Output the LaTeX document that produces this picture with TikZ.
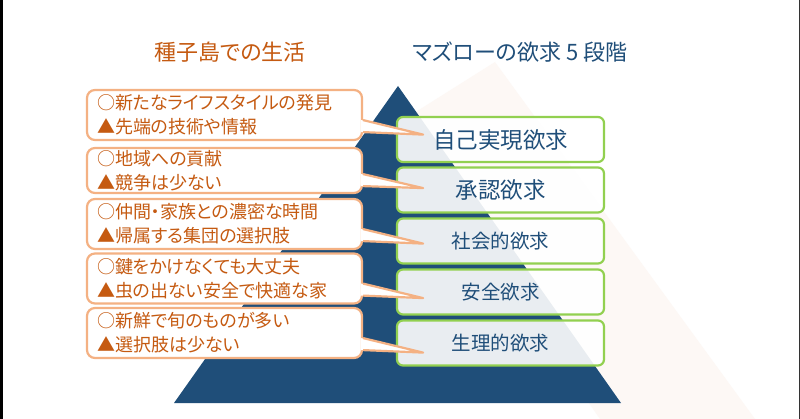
\documentclass[tikz,border=0pt]{standalone}
\usepackage{fontspec}
\setmainfont{Noto Sans CJK JP}[Script=CJK, RawFeature={+palt}]
\usepackage{tikz}
\usepackage{xcolor}
\definecolor{pyramidblue}{RGB}{31, 78, 121}
\definecolor{needgreen}{RGB}{146, 208, 80}
\definecolor{lifeorange}{RGB}{197, 90, 17}
\definecolor{calloutpeach}{RGB}{244, 177, 131}
\definecolor{palepeach}{RGB}{253, 248, 245}
\usetikzlibrary{calc, positioning}

\begin{document}
\begin{tikzpicture}[x=1pt, y=-1pt,
    needbox/.style={draw=needgreen, line width=2.2pt, rounded corners=6pt,
        fill=white, fill opacity=0.9, text opacity=1, text=pyramidblue,
        minimum width=207pt, minimum height=45pt},
    lifebox/.style={draw=calloutpeach, line width=2.2pt, rounded corners=8pt,
        fill=white, text=lifeorange, text width=255pt, align=left,
        inner xsep=10pt, inner ysep=0pt, minimum height=50pt,
        font=\fontsize{18}{24}\selectfont},
    wedge/.style={draw=calloutpeach, line width=2.2pt, line join=round},
    bigneed/.style={font=\fontsize{22.5}{24}\selectfont},
    smallneed/.style={font=\fontsize{19.5}{22}\selectfont}]
                    % Frame
                    \useasboundingbox (0, 0) rectangle (800, 419);
                    \fill[white] (0, 0) rectangle (800, 419);
                    \fill[black] (0, 0) rectangle (3, 419);
                    \fill[black!80] (799, 0) rectangle (800, 419);

                    % Pale mountain behind
                    \fill[palepeach] (495, 62) -- (755, 419) -- (600, 419) -- (395, 125) -- cycle;

                    % Pyramid
                    \fill[pyramidblue] (398, 86) -- (621, 403) -- (174, 403) -- cycle;

                    % Headers
                    \node[text=lifeorange, font=\fontsize{22}{24}\selectfont] (lifetitle) at (230, 52) {種子島での生活};
                    \node[text=pyramidblue, font=\fontsize{22}{24}\selectfont] (needtitle) at (520, 52) {マズローの欲求 5 段階};

                    % Maslow levels
                    \node[needbox, bigneed] (self) at (500.5, 139.5) {自己実現欲求};
                    \node[needbox, bigneed] (esteem) at (500.5, 190) {承認欲求};
                    \node[needbox, smallneed] (social) at (500.5, 241) {社会的欲求};
                    \node[needbox, smallneed] (safety) at (500.5, 292) {安全欲求};
                    \node[needbox, smallneed] (body) at (500.5, 343) {生理的欲求};

                    % Life on the island
                    \node[lifebox] (life1) at (224.5, 115) {○新たなライフスタイルの発見\\▲先端の技術や情報};
                    \coordinate (tip1) at ($(life1.south east)+(60, -6.5)$);
                    \fill[white] ($(life1.south east)+(-2, -21)$) -- (tip1) -- ($(life1.south east)+(-2, -9)$) -- cycle;
                    \draw[wedge] ($(life1.south east)+(0, -21)$) -- (tip1) -- ($(life1.south east)+(0, -9)$);

                    \node[lifebox, minimum height=45pt] (life2) at (224.5, 170.5) {○地域への貢献\\▲競争は少ない};
                    \coordinate (tip2) at ($(life2.south east)+(60, -6)$);
                    \fill[white] ($(life2.south east)+(-2, -20)$) -- (tip2) -- ($(life2.south east)+(-2, -8)$) -- cycle;
                    \draw[wedge] ($(life2.south east)+(0, -20)$) -- (tip2) -- ($(life2.south east)+(0, -8)$);

                    \node[lifebox] (life3) at (224.5, 224) {○仲間・家族との濃密な時間\\▲帰属する集団の選択肢};
                    \coordinate (tip3) at ($(life3.south east)+(60, -6.5)$);
                    \fill[white] ($(life3.south east)+(-2, -21)$) -- (tip3) -- ($(life3.south east)+(-2, -9)$) -- cycle;
                    \draw[wedge] ($(life3.south east)+(0, -21)$) -- (tip3) -- ($(life3.south east)+(0, -9)$);

                    \node[lifebox] (life4) at (224.5, 278.5) {○鍵をかけなくても大丈夫\\▲虫の出ない安全で快適な家};
                    \coordinate (tip4) at ($(life4.south east)+(60, -6.5)$);
                    \fill[white] ($(life4.south east)+(-2, -21)$) -- (tip4) -- ($(life4.south east)+(-2, -9)$) -- cycle;
                    \draw[wedge] ($(life4.south east)+(0, -21)$) -- (tip4) -- ($(life4.south east)+(0, -9)$);

                    \node[lifebox] (life5) at (224.5, 333) {○新鮮で旬のものが多い\\▲選択肢は少ない};
                    \coordinate (tip5) at ($(life5.south east)+(60, -6.5)$);
                    \fill[white] ($(life5.south east)+(-2, -21)$) -- (tip5) -- ($(life5.south east)+(-2, -9)$) -- cycle;
                    \draw[wedge] ($(life5.south east)+(0, -21)$) -- (tip5) -- ($(life5.south east)+(0, -9)$);
                \end{tikzpicture}
\end{document}
